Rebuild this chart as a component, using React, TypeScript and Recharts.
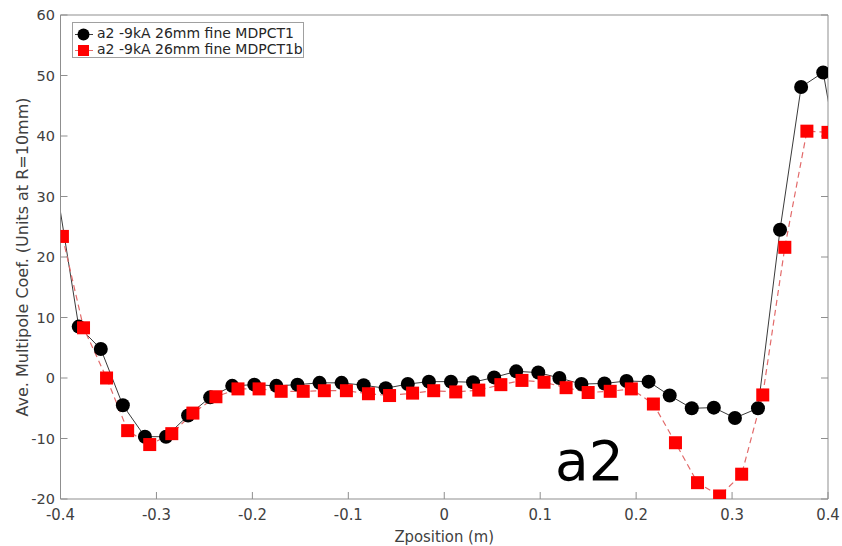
import { LineChart, Line, XAxis, YAxis, Label } from 'recharts'

// Zposition (m) and a2 coefficient
const zMdpct1 = [
  -0.4036, -0.381, -0.358, -0.335, -0.312, -0.29, -0.267, -0.244, -0.221, -0.198,
  -0.175, -0.153, -0.13, -0.107, -0.084, -0.061, -0.038, -0.016, 0.007, 0.03,
  0.052, 0.075, 0.098, 0.12, 0.143, 0.167, 0.19, 0.213, 0.235, 0.258,
  0.281, 0.303, 0.327, 0.35, 0.372, 0.395, 0.418,
]
const a2Mdpct1 = [
  31, 8.5, 4.8, -4.5, -9.7, -9.7, -6.2, -3.2, -1.3, -1.1,
  -1.3, -1.1, -0.8, -0.8, -1.2, -1.7, -1.0, -0.6, -0.6, -0.7,
  0.1, 1.1, 0.9, 0.0, -1.0, -0.9, -0.5, -0.6, -2.9, -5.0,
  -4.9, -6.6, -5.0, 24.5, 48.1, 50.5, 30,
]
const zMdpct1b = [
  -0.398, -0.376, -0.352, -0.33, -0.307, -0.284, -0.262, -0.238, -0.215, -0.193,
  -0.17, -0.147, -0.125, -0.102, -0.079, -0.057, -0.033, -0.011, 0.012, 0.036,
  0.059, 0.081, 0.104, 0.127, 0.15, 0.173, 0.195, 0.218, 0.241, 0.264,
  0.287, 0.31, 0.332, 0.355, 0.378, 0.4,
]
const a2Mdpct1b = [
  23.4, 8.3, 0.0, -8.7, -11.0, -9.2, -5.8, -3.1, -1.8, -1.8,
  -2.2, -2.2, -2.1, -2.1, -2.6, -2.9, -2.5, -2.1, -2.3, -2.0,
  -1.1, -0.4, -0.7, -1.6, -2.4, -2.2, -1.8, -4.3, -10.7, -17.3,
  -19.5, -15.9, -2.8, 21.6, 40.8, 40.6,
]

const zTicks = [-0.4, -0.3, -0.2, -0.1, 0, 0.1, 0.2, 0.3, 0.4]
const coefTicks = [-20, -10, 0, 10, 20, 30, 40, 50, 60]

const SERIES_1 = 'a2 -9kA 26mm fine MDPCT1'
const SERIES_2 = 'a2 -9kA 26mm fine MDPCT1b'

const AXIS_GRAY = '#8f8f8f'
const TEXT_GRAY = '#404040'
const RED_LINE = '#e26a6a'

const inRange = (z: number) => z >= -0.4 && z <= 0.4

// eslint-disable-next-line @typescript-eslint/no-explicit-any
const CircleDot = (props: any) => {
  const { cx, cy, payload, index } = props
  if (!inRange(payload.z)) return <g key={`c-${index}`} />
  return <circle key={`c-${index}`} cx={cx} cy={cy} r={7} fill="#000" />
}

// eslint-disable-next-line @typescript-eslint/no-explicit-any
const SquareDot = (props: any) => {
  const { cx, cy, payload, index } = props
  if (!inRange(payload.z)) return <g key={`s-${index}`} />
  return <rect key={`s-${index}`} x={cx - 6.5} y={cy - 6.5} width={13} height={13} fill="#ff0000" />
}

const noTick = () => <g />

export default function App() {
  const data1 = zMdpct1.map((z, i) => ({ z, v: a2Mdpct1[i] }))
  const data2 = zMdpct1b.map((z, i) => ({ z, v: a2Mdpct1b[i] }))

  return (
    <div style={{ position: 'absolute', left: 0, top: 0, width: 842, height: 546, background: '#fff', fontFamily: 'DejaVu Sans' }}>
      <LineChart width={842} height={546} margin={{ top: 14, right: 13, bottom: 0, left: 0 }}>
        <XAxis
          type="number"
          dataKey="z"
          domain={[-0.4, 0.4]}
          ticks={zTicks}
          allowDataOverflow
          height={47}
          tickSize={-7}
          tickMargin={16}
          stroke={AXIS_GRAY}
          tick={{ fontSize: 16.5, fill: TEXT_GRAY, fontFamily: 'DejaVu Sans Condensed' }}
        >
          <Label
            value="Zposition (m)"
            position="insideBottom"
            offset={4}
            style={{ fontSize: 16.5, fill: TEXT_GRAY, fontFamily: 'DejaVu Sans Condensed' }}
          />
        </XAxis>
        <XAxis
          xAxisId="top"
          orientation="top"
          type="number"
          domain={[-0.4, 0.4]}
          ticks={zTicks}
          allowDataOverflow
          height={1}
          tickSize={-7}
          stroke={AXIS_GRAY}
          tick={noTick}
        />
        <YAxis
          type="number"
          domain={[-20, 60]}
          ticks={coefTicks}
          allowDataOverflow
          width={60.5}
          tickSize={-7}
          tickMargin={12.5}
          stroke={AXIS_GRAY}
          tick={{ fontSize: 14.5, fill: TEXT_GRAY }}
        >
          <Label
            value="Ave. Multipole Coef. (Units at R=10mm)"
            angle={-90}
            position="center"
            dx={-8}
            style={{ fontSize: 16, fill: TEXT_GRAY }}
          />
        </YAxis>
        <YAxis
          yAxisId="right"
          orientation="right"
          type="number"
          domain={[-20, 60]}
          ticks={coefTicks}
          allowDataOverflow
          width={1}
          tickSize={-7}
          stroke={AXIS_GRAY}
          tick={noTick}
        />
        <Line
          data={data1}
          dataKey="v"
          name={SERIES_1}
          stroke="#3a3a3a"
          strokeWidth={1}
          dot={CircleDot}
          activeDot={false}
          isAnimationActive={false}
        />
        <Line
          data={data2}
          dataKey="v"
          name={SERIES_2}
          stroke={RED_LINE}
          strokeWidth={1.2}
          strokeDasharray="6 4"
          dot={SquareDot}
          activeDot={false}
          isAnimationActive={false}
        />
      </LineChart>

      <div
        style={{
          position: 'absolute',
          left: 72,
          top: 22,
          width: 230,
          height: 34,
          border: '1px solid #a0a0a0',
          background: '#fff',
          fontSize: 14,
          color: '#262626',
          fontFamily: 'DejaVu Sans',
        }}
      >
        <svg width={22} height={34} style={{ position: 'absolute', left: 0, top: 0 }}>
          <line x1={2} x2={20} y1={11.5} y2={11.5} stroke="#3a3a3a" strokeWidth={1} />
          <circle cx={10.5} cy={11.5} r={6} fill="#000" />
          <line x1={2} x2={20} y1={27.5} y2={27.5} stroke={RED_LINE} strokeWidth={1.2} strokeDasharray="4 3" />
          <rect x={5} y={22} width={11} height={11} fill="#ff0000" />
        </svg>
        <div style={{ position: 'absolute', left: 24, top: 2, lineHeight: '17px', whiteSpace: 'nowrap' }}>{SERIES_1}</div>
        <div style={{ position: 'absolute', left: 24, top: 18, lineHeight: '17px', whiteSpace: 'nowrap' }}>{SERIES_2}</div>
      </div>

      <div
        style={{
          position: 'absolute',
          left: 555,
          top: 434,
          fontSize: 55,
          lineHeight: '55px',
          color: '#000',
          fontFamily: 'DejaVu Sans',
        }}
      >
        a2
      </div>
    </div>
  )
}
